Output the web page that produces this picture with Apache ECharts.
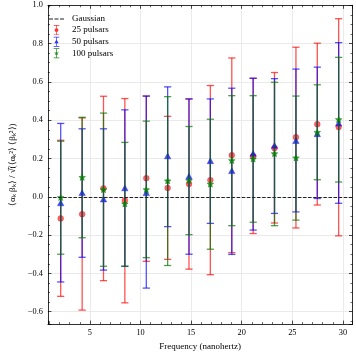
<!DOCTYPE html>
<html>
<head>
<meta charset="utf-8">
<script src="https://cdn.jsdelivr.net/npm/echarts@6/dist/echarts.min.js"></script>
<style>html,body{margin:0;padding:0;background:#fff}#c{width:356px;height:356px}</style>
</head>
<body>
<div id="c"></div>
<script>
// ---- data ----
const freqs = [2.11, 4.23, 6.34, 8.45, 10.57, 12.68, 14.79, 16.90, 19.02, 21.13, 23.24, 25.36, 27.47, 29.58];

const p25Mean = [-0.113, -0.091, 0.044, -0.019, 0.097, 0.046, 0.067, 0.087, 0.217, 0.212, 0.254, 0.311, 0.379, 0.364];
const p25Lo   = [-0.520, -0.592, -0.438, -0.554, -0.337, -0.327, -0.378, -0.407, -0.292, -0.192, -0.137, -0.163, -0.043, -0.204];
const p25Hi   = [0.295, 0.412, 0.525, 0.513, 0.526, 0.420, 0.511, 0.581, 0.725, 0.619, 0.649, 0.781, 0.802, 0.930];

const p50Mean = [-0.035, 0.018, -0.015, 0.043, 0.018, 0.210, 0.104, 0.185, 0.133, 0.224, 0.265, 0.290, 0.326, 0.381];
const p50Lo   = [-0.445, -0.316, -0.383, -0.363, -0.477, -0.156, -0.300, -0.139, -0.301, -0.174, -0.087, -0.079, -0.009, -0.034];
const p50Hi   = [0.383, 0.355, 0.355, 0.454, 0.526, 0.574, 0.511, 0.511, 0.567, 0.619, 0.617, 0.667, 0.677, 0.805];

const p100Mean = [-0.005, 0.100, 0.036, -0.038, 0.036, 0.082, 0.084, 0.065, 0.188, 0.196, 0.224, 0.202, 0.335, 0.402];
const p100Lo   = [-0.300, -0.214, -0.363, -0.363, -0.318, -0.359, -0.198, -0.274, -0.151, -0.133, -0.151, -0.122, 0.089, 0.077];
const p100Hi   = [0.290, 0.415, 0.437, 0.284, 0.395, 0.523, 0.367, 0.405, 0.528, 0.528, 0.598, 0.526, 0.585, 0.728];

const seriesNames = ['25 pulsars', '50 pulsars', '100 pulsars'];
const xRange = [0.85, 30.95];
const yRange = [-0.665, 1.0];

// ---- chart ----
const FONT = 'Liberation Serif';
const chart = echarts.init(document.getElementById('c'), null, {renderer: 'canvas'});

function rows(m, lo, hi) {
  return freqs.map((f, i) => [f, m[i], lo[i], hi[i]]);
}

function starPoints(cx, cy, R, r) {
  const pts = [];
  for (let i = 0; i < 10; i++) {
    const a = -Math.PI / 2 + i * Math.PI / 5;
    const rr = i % 2 === 0 ? R : r;
    pts.push([cx + rr * Math.cos(a), cy + rr * Math.sin(a)]);
  }
  return pts;
}

function makeRender(kind, lineColor, markColor) {
  return function (params, api) {
    const x = api.value(0), m = api.value(1), lo = api.value(2), hi = api.value(3);
    const pLo = api.coord([x, lo]), pHi = api.coord([x, hi]), pM = api.coord([x, m]);
    const cw = 3.6;
    const ls = {stroke: lineColor, lineWidth: 1.3};
    const children = [
      {type: 'line', shape: {x1: pLo[0], y1: pLo[1], x2: pHi[0], y2: pHi[1]}, style: ls},
      {type: 'line', shape: {x1: pLo[0] - cw, y1: pLo[1], x2: pLo[0] + cw, y2: pLo[1]}, style: ls},
      {type: 'line', shape: {x1: pHi[0] - cw, y1: pHi[1], x2: pHi[0] + cw, y2: pHi[1]}, style: ls}
    ];
    const ms = {fill: markColor, stroke: markColor, lineWidth: 0.5};
    if (kind === 'circle') {
      children.push({type: 'circle', shape: {cx: pM[0], cy: pM[1], r: 2.9}, style: ms});
    } else if (kind === 'triangle') {
      children.push({type: 'polygon', shape: {points: [[pM[0], pM[1] - 3.5], [pM[0] + 3.2, pM[1] + 2.3], [pM[0] - 3.2, pM[1] + 2.3]]}, style: ms});
    } else {
      children.push({type: 'polygon', shape: {points: starPoints(pM[0], pM[1], 3.5, 1.6)}, style: ms});
    }
    return {type: 'group', children};
  };
}

const cols = {
  red:   {line: 'rgba(255,0,0,0.68)', mark: 'rgba(255,0,0,0.62)', solid: '#ff3030'},
  blue:  {line: 'rgba(0,0,255,0.68)', mark: 'rgba(0,0,255,0.7)', solid: '#3030ff'},
  green: {line: 'rgba(0,120,0,0.7)', mark: 'rgba(0,128,0,0.8)', solid: '#228b22'}
};

const iconDash = 'path://M0,4.5H4V5.5H0Z M5.5,4.5H9.5V5.5H5.5Z M11,4.5H15V5.5H11Z';
const iconCircle = 'path://M1,0H9V1H1Z M4.5,0H5.5V14H4.5Z M1,13H9V14H1Z M5,4.3A2.7,2.7 0 1 1 4.99,4.3Z';
const iconTri = 'path://M1,0H9V1H1Z M4.5,0H5.5V14H4.5Z M1,13H9V14H1Z M5,3.8L8,9.2L2,9.2Z';
const iconStar = 'path://M1,0H9V1H1Z M4.5,0H5.5V14H4.5Z M1,13H9V14H1Z M5,3.6L5.8,5.9L8.2,5.9L6.3,7.4L7,9.8L5,8.3L3,9.8L3.7,7.4L1.8,5.9L4.2,5.9Z';

const axisCommonX = {
  type: 'value', min: xRange[0], max: xRange[1], splitNumber: 6,
  axisLine: {show: true, onZero: false, lineStyle: {color: '#000', width: 0.8}},
  axisTick: {show: true, inside: true, length: 3.5, lineStyle: {color: '#000', width: 0.7}},
  minorTick: {show: true, splitNumber: 5, length: 2, lineStyle: {color: '#000', width: 0.6}}
};
const axisCommonY = {
  type: 'value', min: yRange[0], max: yRange[1], splitNumber: 8,
  axisLine: {show: true, onZero: false, lineStyle: {color: '#000', width: 0.8}},
  axisTick: {show: true, inside: true, length: 3.5, lineStyle: {color: '#000', width: 0.7}},
  minorTick: {show: true, splitNumber: 4, length: 2, lineStyle: {color: '#000', width: 0.6}}
};

const fmtY = v => (v < -1e-9 ? '\u2212' : '') + Math.abs(v).toFixed(1);

const option = {
  animation: false,
  backgroundColor: '#fff',
  textStyle: {fontFamily: FONT},
  grid: {left: 37.7, right: 3.5, top: 5.3, bottom: 26, containLabel: false},
  legend: {
    orient: 'vertical', left: 44, top: 9.5, itemWidth: 15, itemHeight: 10, itemGap: 1.6,
    textStyle: {fontFamily: FONT, fontSize: 9, color: '#000', padding: [0, 0, 0, 3]},
    data: [
      {name: 'Gaussian', icon: iconDash, itemStyle: {color: '#222'}},
      {name: seriesNames[0], icon: iconCircle, itemStyle: {color: cols.red.solid}},
      {name: seriesNames[1], icon: iconTri, itemStyle: {color: cols.blue.solid}},
      {name: seriesNames[2], icon: iconStar, itemStyle: {color: cols.green.solid}}
    ]
  },
  xAxis: [
    Object.assign({}, axisCommonX, {
      position: 'bottom',
      name: 'Frequency (nanohertz)', nameLocation: 'middle', nameGap: 15,
      nameTextStyle: {fontFamily: FONT, fontSize: 9, color: '#000'},
      axisLabel: {show: true, fontFamily: FONT, fontSize: 8.3, color: '#000', margin: 5, showMinLabel: false, showMaxLabel: false},
      splitLine: {show: true, lineStyle: {color: '#e4e4e4', width: 0.8}}
    }),
    Object.assign({}, axisCommonX, {
      position: 'top', axisLabel: {show: false}, splitLine: {show: false}
    })
  ],
  yAxis: [
    Object.assign({}, axisCommonY, {
      position: 'left',
      name: '\u27E8\u03B1\u2096 \u03B2\u2096\u27E9 / \u221A\u0305(\u27E8\u03B1\u2096\u00B2\u27E9 \u27E8\u03B2\u2096\u00B2\u27E9)',
      nameLocation: 'middle', nameGap: 26, nameRotate: 90,
      nameTextStyle: {fontFamily: FONT, fontSize: 9, color: '#000'},
      axisLabel: {show: true, fontFamily: FONT, fontSize: 8.3, color: '#000', margin: 5, formatter: fmtY, showMinLabel: false},
      splitLine: {show: true, lineStyle: {color: '#e4e4e4', width: 0.8}}
    }),
    Object.assign({}, axisCommonY, {
      position: 'right', axisLabel: {show: false}, splitLine: {show: false}
    })
  ],
  series: [
    {
      name: 'Gaussian', type: 'line', data: [], symbol: 'none',
      itemStyle: {color: '#222'},
      lineStyle: {color: '#222', type: [3.5, 1.6], width: 1},
      markLine: {
        silent: true, symbol: 'none', label: {show: false},
        lineStyle: {color: '#222', type: [3.5, 1.6], width: 1},
        data: [{yAxis: 0}]
      },
      z: 5
    },
    {
      name: seriesNames[0], type: 'custom', xAxisIndex: 0, yAxisIndex: 0,
      encode: {x: 0, y: [1, 2, 3]}, itemStyle: {color: cols.red.solid},
      data: rows(p25Mean, p25Lo, p25Hi), renderItem: makeRender('circle', cols.red.line, cols.red.mark), z: 2
    },
    {
      name: seriesNames[1], type: 'custom', xAxisIndex: 0, yAxisIndex: 0,
      encode: {x: 0, y: [1, 2, 3]}, itemStyle: {color: cols.blue.solid},
      data: rows(p50Mean, p50Lo, p50Hi), renderItem: makeRender('triangle', cols.blue.line, cols.blue.mark), z: 3
    },
    {
      name: seriesNames[2], type: 'custom', xAxisIndex: 0, yAxisIndex: 0,
      encode: {x: 0, y: [1, 2, 3]}, itemStyle: {color: cols.green.solid},
      data: rows(p100Mean, p100Lo, p100Hi), renderItem: makeRender('star', cols.green.line, cols.green.mark), z: 4
    }
  ]
};
chart.setOption(option);
</script>
</body>
</html>
